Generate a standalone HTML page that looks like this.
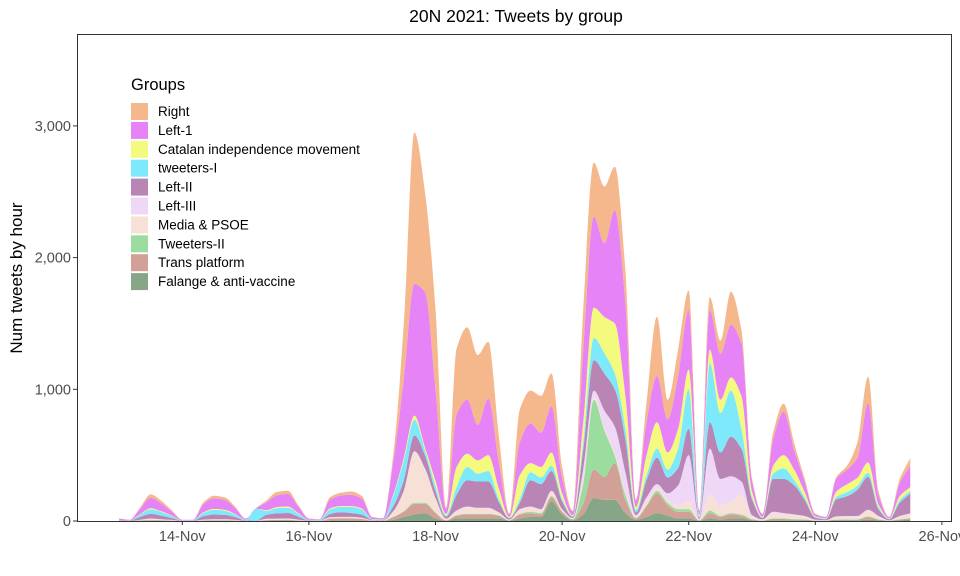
<!DOCTYPE html>
<html><head><meta charset="utf-8">
<style>
body{margin:0;background:#fff;}
svg{display:block;font-family:"Liberation Sans",Arial,sans-serif;}
</style></head>
<body>
<svg id="chart" width="960" height="576" viewBox="0 0 960 576" xmlns="http://www.w3.org/2000/svg">
<rect x="0" y="0" width="960" height="576" fill="#fff"/>
<text x="516" y="22" text-anchor="middle" font-size="17.5" fill="#000">20N 2021: Tweets by group</text>
<g id="areas"></g>
<rect x="77.5" y="34.5" width="874" height="487" fill="none" stroke="#333" stroke-width="1"/>
<g id="axes"></g>
<text transform="translate(22,278) rotate(-90)" text-anchor="middle" font-size="17" fill="#000">Num tweets by hour</text>
<g id="legend">
<text x="131" y="90" font-size="16.5" fill="#000">Groups</text>
</g>
</svg>
<script>
// time index: 4-hourly from 13-Nov 00:00
const groups = ["Right","Left-1","Catalan independence movement","tweeters-I","Left-II","Left-III","Media & PSOE","Tweeters-II","Trans platform","Falange & anti-vaccine"];
const colors = ["#F5B78C","#E683F7","#F4FA7E","#7EE9FA","#B985B5","#EED7F7","#F7E1D7","#9BDD9F","#D1A096","#87A688"];
const xTickLabels = ["14-Nov","16-Nov","18-Nov","20-Nov","22-Nov","24-Nov","26-Nov"];
const xTickHours = [24,72,120,168,216,264,312];
const yTicks = [0,1000,2000,3000];
const yTickLabels = ["0","1,000","2,000","3,000"];

const right = [2,1,10,25,20,10, 1,1,15,20,20,10, 2,0,15,25,25,10, 2,1,20,20,25,20, 3,2,50,420,1150,760, 600,10,500,550,530,430, 200,5,250,250,280,250, 80,5,300,410,430,330, 250,10,150,450,150,200, 150,5,100,100,250,100, 20,5,50,60,50,20, 5,2,10,30,120,200, 30,3,30,60];
const left1 = [8,4,40,80,60,30, 4,4,60,80,75,45, 8,5,60,90,95,50, 8,5,65,80,85,75, 12,8,250,600,1000,1180, 700,40,400,410,270,430, 200,20,250,300,260,350, 120,30,550,690,560,860, 700,50,250,350,250,400, 450,30,300,350,400,400, 80,20,200,330,150,80, 15,10,100,110,150,450, 70,10,100,160];
const catalan = [1,0,4,8,6,3, 0,0,5,8,7,4, 1,0,6,8,9,5, 1,1,8,8,8,7, 1,1,10,20,30,20, 40,10,150,100,100,120, 80,5,180,70,80,100, 40,5,150,230,275,380, 250,20,150,200,130,150, 150,10,100,100,100,250, 40,5,60,100,80,40, 5,3,40,60,60,80, 20,3,30,30];
const tweeters1 = [4,2,18,35,27,15, 2,2,25,35,32,20, 4,90,30,40,40,22, 4,3,35,40,45,40, 6,4,80,150,120,40, 40,10,60,100,60,80, 20,5,30,60,50,40, 20,5,60,170,155,120, 80,20,40,70,60,150, 300,10,450,300,350,150, 20,5,40,80,40,20, 5,3,20,30,30,30, 15,3,20,20];
const left2 = [3,2,20,35,27,15, 2,2,25,35,32,20, 3,2,30,40,42,22, 3,2,25,35,30,25, 4,3,40,80,120,100, 50,15,120,200,200,200, 80,10,50,200,190,150, 60,10,150,230,280,285, 250,20,130,200,120,130, 200,10,200,200,300,250, 120,10,250,260,220,120, 15,8,130,150,200,250, 50,8,100,150];
const left3 = [0,0,1,2,1,1, 0,0,1,1,1,1, 0,0,1,1,1,1, 0,0,1,1,1,1, 0,0,2,5,10,10, 10,2,5,5,5,5, 3,1,5,10,10,10, 5,3,80,50,130,200, 150,15,30,30,50,150, 350,5,350,200,200,100, 10,3,10,10,5,5, 2,1,3,5,5,10, 5,1,5,5];
const media = [1,1,4,8,6,3, 1,1,5,6,6,4, 1,1,8,8,8,5, 1,1,8,8,8,6, 2,1,40,150,380,250, 100,10,30,50,40,40, 20,5,30,30,20,30, 10,5,30,20,20,20, 20,5,30,20,20,30, 60,5,120,80,80,150, 20,5,40,30,30,20, 5,2,20,20,20,40, 20,2,20,30];
const tweeters2 = [0,0,1,2,1,1, 0,0,1,1,1,1, 0,0,1,1,1,1, 0,0,1,2,2,2, 0,0,2,5,10,10, 5,1,5,5,5,5, 3,1,5,10,10,10, 5,5,150,530,355,55, 40,5,10,20,20,20, 20,2,20,10,10,10, 5,1,5,5,5,3, 1,1,2,3,3,5, 3,1,3,3];
const trans = [1,0,3,5,4,2, 0,0,3,4,4,3, 1,0,5,5,6,3, 1,1,15,15,15,12, 2,1,20,40,80,70, 40,3,20,30,30,30, 20,2,30,30,20,30, 20,5,80,215,175,280, 100,10,80,150,80,50, 50,2,40,20,30,20, 5,2,10,10,5,5, 2,1,5,5,5,20, 5,1,5,10];
const falange = [0,0,1,2,2,1, 0,0,1,2,2,1, 0,0,2,3,3,1, 0,0,3,5,5,3, 1,1,10,30,50,60, 20,2,20,20,20,20, 20,2,20,30,30,150, 50,5,50,175,160,160, 60,10,30,60,40,20, 20,2,20,10,20,20, 5,1,5,5,5,5, 1,1,5,5,5,10, 5,1,5,10];

const series = [right,left1,catalan,tweeters1,left2,left3,media,tweeters2,trans,falange];
const NS="http://www.w3.org/2000/svg";
function xScale(h){return 119 + h*63.3/24;}
function yScale(v){return 521 - v*0.1317;}
const n = right.length;
const hours = []; for(let i=0;i<n;i++) hours.push(i*4);

// monotone cubic path segment through points
function monoSlopes(xs,ys){
  const m=xs.length, d=[], t=new Array(m).fill(0);
  for(let i=0;i<m-1;i++) d.push((ys[i+1]-ys[i])/(xs[i+1]-xs[i]));
  t[0]=d[0]; t[m-1]=d[m-2];
  for(let i=1;i<m-1;i++){
    if(d[i-1]*d[i]<=0) t[i]=0;
    else t[i]=3*(d[i-1]+d[i])/( (2*d[i]+d[i-1])/d[i-1] + (d[i]+2*d[i-1])/d[i] );
  }
  return t;
}
function monoPath(xs,ys,start){
  const t=monoSlopes(xs,ys);
  let s=(start?'M':'L')+xs[0].toFixed(1)+','+ys[0].toFixed(1);
  for(let i=0;i<xs.length-1;i++){
    const h=(xs[i+1]-xs[i])/3;
    s+=' C'+(xs[i]+h).toFixed(1)+','+(ys[i]+t[i]*h).toFixed(1)+' '+(xs[i+1]-h).toFixed(1)+','+(ys[i+1]-t[i+1]*h).toFixed(1)+' '+xs[i+1].toFixed(1)+','+ys[i+1].toFixed(1);
  }
  return s;
}

const areas=document.getElementById('areas');
let base=new Array(n).fill(0);
for(let s=series.length-1;s>=0;s--){
  const top=base.map((b,i)=>b+series[s][i]);
  const xs=hours.map(xScale);
  const topY=top.map(yScale);
  const baseY=base.map(yScale);
  const d=monoPath(xs,topY,true)+' '+monoPath(xs.slice().reverse(),baseY.slice().reverse(),false)+' Z';
  const p=document.createElementNS(NS,'path');
  p.setAttribute('d',d);
  p.setAttribute('fill',colors[s]);
  
  
  areas.appendChild(p);
  base=top;
}

const axes=document.getElementById('axes');
xTickHours.forEach((h,i)=>{
  const x=xScale(h);
  const l=document.createElementNS(NS,'line');
  l.setAttribute('x1',x);l.setAttribute('x2',x);l.setAttribute('y1',521);l.setAttribute('y2',525);
  l.setAttribute('stroke','#333');
  
  
  axes.appendChild(l);
  const t=document.createElementNS(NS,'text');
  t.setAttribute('x',x);t.setAttribute('y',541);t.setAttribute('text-anchor','middle');
  t.setAttribute('font-size','14.5');t.setAttribute('fill','#4D4D4D');
  t.textContent=xTickLabels[i];
  
  
  axes.appendChild(t);
});
yTicks.forEach((v,i)=>{
  const y=yScale(v);
  const l=document.createElementNS(NS,'line');
  l.setAttribute('x1',73);l.setAttribute('x2',77);l.setAttribute('y1',y);l.setAttribute('y2',y);
  l.setAttribute('stroke','#333');
  
  
  axes.appendChild(l);
  const t=document.createElementNS(NS,'text');
  t.setAttribute('x',71);t.setAttribute('y',y+5);t.setAttribute('text-anchor','end');
  t.setAttribute('font-size','14.5');t.setAttribute('fill','#4D4D4D');
  t.textContent=yTickLabels[i];
  
  
  axes.appendChild(t);
});

const legend=document.getElementById('legend');
groups.forEach((g,i)=>{
  const y=103+i*18.9;
  const r=document.createElementNS(NS,'rect');
  r.setAttribute('x',131);r.setAttribute('y',y);r.setAttribute('width',17);r.setAttribute('height',17);
  r.setAttribute('fill',colors[i]);
  
  
  legend.appendChild(r);
  const t=document.createElementNS(NS,'text');
  t.setAttribute('x',158);t.setAttribute('y',y+13);t.setAttribute('font-size','13.5');t.setAttribute('fill','#000');
  t.textContent=g;
  
  
  legend.appendChild(t);
});
</script>
</body></html>
